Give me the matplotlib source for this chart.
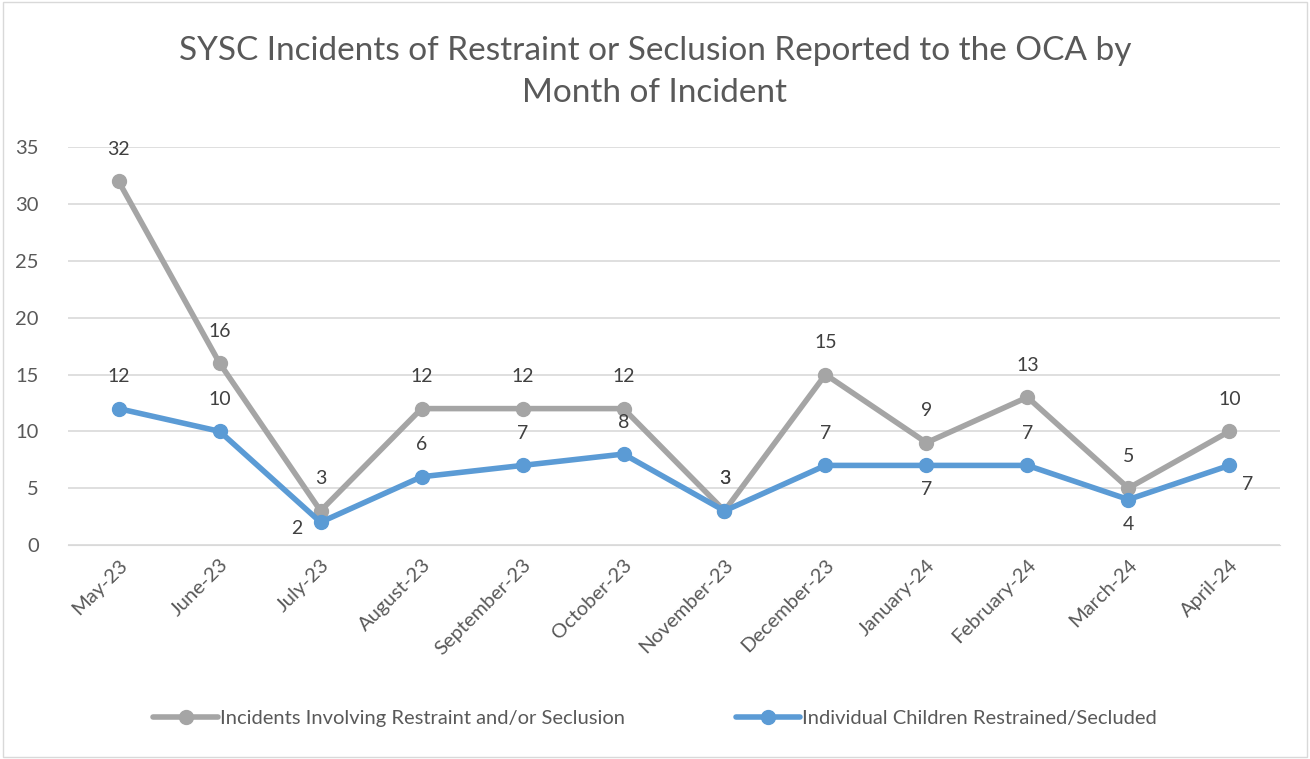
import matplotlib.pyplot as plt
import numpy as np

months = ["May-23", "June-23", "July-23", "August-23", "September-23", "October-23",
          "November-23", "December-23", "January-24", "February-24", "March-24", "April-24"]
incidents = [32, 16, 3, 12, 12, 12, 3, 15, 9, 13, 5, 10]
children = [12, 10, 2, 6, 7, 8, 3, 7, 7, 7, 4, 7]

GRAY = "#A5A5A5"
BLUE = "#5B9BD5"
TXT = "#595959"
plt.rcParams['font.family'] = ['Lato', 'DejaVu Sans']

fig = plt.figure(figsize=(13.1, 7.59), dpi=100)
ax = fig.add_axes([0.052, 0.282, 0.925, 0.524])

x = np.arange(len(months))
ax.plot(x, incidents, color=GRAY, lw=4, marker='o', ms=10, solid_capstyle='round',
        label="Incidents Involving Restraint and/or Seclusion", zorder=3)
ax.plot(x, children, color=BLUE, lw=4, marker='o', ms=10, solid_capstyle='round',
        label="Individual Children Restrained/Secluded", zorder=4)

# data labels (offsets in pixels)
for i, v in enumerate(incidents):
    ax.annotate(str(v), (i, v), xytext=(0, 32), textcoords='offset pixels',
                ha='center', va='center', fontsize=14, color='#404040')
blue_off = {2: (-24, -6), 8: (0, -24), 10: (0, -25), 11: (18, -19)}
for i, v in enumerate(children):
    dx, dy = blue_off.get(i, (0, 32))
    ax.annotate(str(v), (i, v), xytext=(dx, dy), textcoords='offset pixels',
                ha='center', va='center', fontsize=14, color='#404040')

ax.set_xlim(-0.5, len(months) - 0.5)
ax.set_ylim(0, 35)
ax.set_yticks(range(0, 36, 5))
ax.set_xticks(x)
ax.set_xticklabels(months, rotation=45, ha='right', rotation_mode='anchor')
ax.tick_params(axis='both', length=0, labelsize=14.5, colors=TXT)
ax.tick_params(axis='x', pad=8)
ax.tick_params(axis='y', pad=21)
ax.grid(axis='y', color='#D9D9D9', lw=1.2)
ax.set_axisbelow(True)
for s in ['top', 'right', 'left']:
    ax.spines[s].set_visible(False)
ax.spines['bottom'].set_color('#D9D9D9')

fig.text(0.5, 0.905, "SYSC Incidents of Restraint or Seclusion Reported to the OCA by\nMonth of Incident",
         ha='center', va='center', fontsize=24, color=TXT, linespacing=1.5)

fig.legend(loc='center', bbox_to_anchor=(0.5, 0.054), ncol=2, frameon=False,
           fontsize=14.5, labelcolor=TXT, handlelength=3.2, handletextpad=0.1,
           columnspacing=5.5)

fig.patches.append(plt.Rectangle((0.002, 0.003), 0.996, 0.994, transform=fig.transFigure,
                                 fill=False, edgecolor='#D9D9D9', lw=1))
fig.savefig("out.png", dpi=100)
